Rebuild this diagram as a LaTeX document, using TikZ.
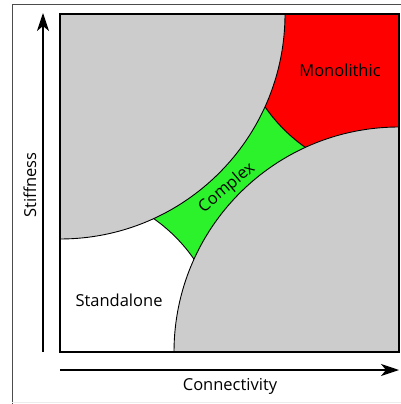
\documentclass[tikz,border=0pt]{standalone}
\usepackage{fontspec}
\setmainfont{Open Sans}
\usetikzlibrary{arrows.meta,positioning}
\definecolor{regiongray}{RGB}{204,204,204}
\definecolor{complexgreen}{RGB}{44,242,44}

\begin{document}
\begin{tikzpicture}[x=1pt, y=-1pt,
    region/.style={draw=black, line width=0.9pt},
    axis/.style={line width=1.2pt, -{Stealth[length=18pt, width=12pt, inset=5pt]}},
    lbl/.style={font=\fontsize{16.5}{18}\selectfont}]
    \useasboundingbox (0,0) rectangle (401,404);

    % Frame
    \draw[gray!60!black, line width=1pt] (12,404) -- (12,5) -- (401,5);
    \draw[gray!15, line width=1pt] (12,402) -- (401,402);

    % Corners
    \coordinate (tl) at (60,14);
    \coordinate (tr) at (399,14);
    \coordinate (bl) at (60,352);
    \coordinate (br) at (399,352);

    % Regions
    \begin{scope}
        \clip (tl) rectangle (br);
        \fill[complexgreen] (tl) rectangle (br);
        \filldraw[region, fill=red] (tr) circle (163);
        \filldraw[region, fill=white] (bl) circle (163);
        \filldraw[region, fill=regiongray] (tl) circle (225);
        \filldraw[region, fill=regiongray] (br) circle (225);
    \end{scope}
    \draw[line width=1.5pt] (tl) rectangle (br);

    % Axes
    \coordinate (yfoot) at (43,352);
    \coordinate (ytip) at (43,13);
    \coordinate (xfoot) at (60,370);
    \coordinate (xtip) at (399,370);
    \draw[axis] (yfoot) -- (ytip);
    \draw[axis] (xfoot) -- (xtip);

    % Labels
    \node[lbl] (mono) at (340,70) {Monolithic};
    \node[lbl] (stand) at (119,300) {Standalone};
    \node[lbl, rotate=40] (cplx) at (227,188) {Complex};
    \node[lbl, rotate=90] (stiff) at (30,185) {Stiffness};
    \node[lbl] (conn) at (230,386) {Connectivity};
\end{tikzpicture}
\end{document}
